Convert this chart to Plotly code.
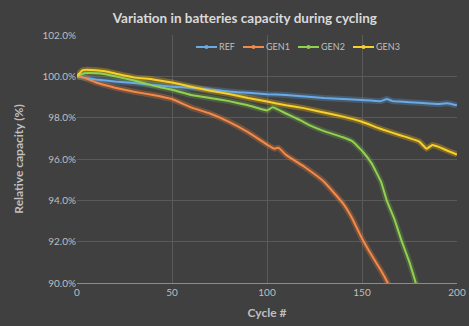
import plotly.graph_objects as go

# ---- data ----
ref_x = [0, 3, 10, 20, 30, 40, 50, 60, 70, 80, 90, 100, 110, 120, 130, 140, 150, 160, 163, 166, 170, 180, 190, 195, 200]
ref_y = [100.0, 99.95, 99.85, 99.75, 99.68, 99.58, 99.5, 99.45, 99.36, 99.27, 99.2, 99.13, 99.1, 99.03, 98.95, 98.9, 98.85, 98.8, 98.9, 98.8, 98.78, 98.72, 98.66, 98.7, 98.6]

gen1_x = [0, 3, 6, 10, 20, 30, 40, 50, 60, 70, 80, 90, 100, 104, 106, 110, 120, 130, 140, 145, 150, 155, 160, 163, 165]
gen1_y = [100.0, 99.95, 99.85, 99.7, 99.45, 99.25, 99.1, 98.9, 98.5, 98.2, 97.8, 97.3, 96.7, 96.5, 96.55, 96.2, 95.6, 94.9, 93.85, 93.1, 92.15, 91.35, 90.6, 90.1, 89.7]

gen2_x = [0, 4, 10, 15, 20, 30, 40, 50, 60, 70, 80, 90, 100, 103, 110, 117, 122, 130, 140, 145, 150, 155, 160, 163, 167, 171, 175, 178, 180]
gen2_y = [100.0, 100.15, 100.15, 100.1, 100.0, 99.8, 99.55, 99.35, 99.1, 98.95, 98.8, 98.6, 98.35, 98.5, 98.2, 97.9, 97.65, 97.35, 97.05, 96.85, 96.4, 95.8, 94.9, 94.0, 93.1, 92.0, 91.0, 90.1, 89.5]

gen3_x = [0, 3, 10, 15, 22, 30, 40, 50, 60, 70, 80, 90, 100, 110, 120, 130, 140, 150, 160, 170, 180, 184, 187, 190, 195, 200]
gen3_y = [100.0, 100.3, 100.3, 100.25, 100.1, 99.95, 99.85, 99.7, 99.5, 99.3, 99.15, 98.95, 98.78, 98.6, 98.45, 98.25, 98.05, 97.8, 97.45, 97.15, 96.85, 96.5, 96.68, 96.6, 96.4, 96.22]

names = ["REF", "GEN1", "GEN2", "GEN3"]
xs = [ref_x, gen1_x, gen2_x, gen3_x]
ys = [ref_y, gen1_y, gen2_y, gen3_y]
colors = ["#6aaae6", "#f4894a", "#92d050", "#f7d02a"]
glows = ["rgba(91,155,213,0.3)", "rgba(237,125,49,0.3)", "rgba(112,173,71,0.3)", "rgba(255,192,0,0.3)"]

fig = go.Figure()
for n, x, y, c, g in zip(names, xs, ys, colors, glows):
    fig.add_trace(go.Scatter(x=x, y=y, mode="lines", line=dict(color=g, width=6, shape="spline", smoothing=0.3),
                             showlegend=False, hoverinfo="skip"))
for n, x, y, c, g in zip(names, xs, ys, colors, glows):
    fig.add_trace(go.Scatter(x=x, y=y, mode="lines", line=dict(color=c, width=2, shape="spline", smoothing=0.3),
                             name=n, showlegend=False))

# ---- manual legend (Excel-style compact entries) ----
L, W, T, H = 77, 380, 35, 248  # plot area in px
def px(xp): return (xp - L) / W
def py(yp): return (T + H - yp) / H
leg_y = 47
leg_starts = [196, 243, 298, 353]
for n, c, s in zip(names, colors, leg_starts):
    fig.add_shape(type="line", xref="paper", yref="paper", x0=px(s), x1=px(s + 21), y0=py(leg_y), y1=py(leg_y),
                  line=dict(color=c, width=2))
    fig.add_shape(type="circle", xref="paper", yref="paper", x0=px(s + 8.5), x1=px(s + 12.5),
                  y0=py(leg_y + 2), y1=py(leg_y - 2), line=dict(width=0), fillcolor=c)
    fig.add_annotation(text=n, xref="paper", yref="paper", x=px(s + 21), y=py(leg_y), xanchor="left",
                       yanchor="middle", showarrow=False, font=dict(size=9, color="#bfbfbf"))

bg = "#404040"
fig.update_layout(
    width=469, height=326,
    paper_bgcolor=bg, plot_bgcolor=bg, showlegend=False,
    margin=dict(l=77, r=12, t=35, b=43),
    font=dict(family="Lato, 'Open Sans', sans-serif", color="#bfbfbf", size=10),
    title=dict(text="<b>Variation in batteries capacity during cycling</b>", x=0.522, xanchor="center",
               y=0.945, yanchor="middle", font=dict(size=13.5, color="#d9d9d9")),
    xaxis=dict(range=[0, 200], dtick=50, tick0=0, showgrid=True, gridcolor="#5a5a5a", gridwidth=1,
               zeroline=False, showline=True, linecolor="#8c8c8c", linewidth=1, ticks="", automargin=False,
               title=dict(text="<b>Cycle #</b>", font=dict(size=12, color="#bfbfbf"), standoff=11),
               tickfont=dict(size=10, color="#bfbfbf")),
    yaxis=dict(range=[90, 102], dtick=2, tick0=90, tickformat=".1f", ticksuffix="%", showgrid=True,
               gridcolor="#5a5a5a", gridwidth=1, zeroline=False, showline=False, ticks="", automargin=False,
               title=dict(text="<b>Relative capacity (%)</b>", font=dict(size=12, color="#bfbfbf"), standoff=16),
               tickfont=dict(size=10, color="#bfbfbf")),
)
fig.write_html("out.html")
